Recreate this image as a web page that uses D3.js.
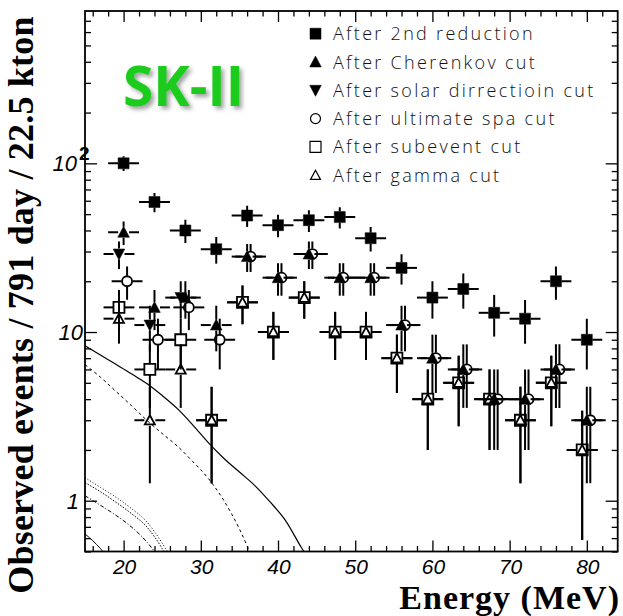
<!DOCTYPE html>
<html>
<head>
<meta charset="utf-8">
<script src="https://cdn.jsdelivr.net/npm/d3@7"></script>
<style>
  html, body { margin: 0; padding: 0; background: #fff; }
  svg { display: block; }
</style>
</head>
<body>
<svg id="chart" width="623" height="616"></svg>
<script>
// Energy bin centres (MeV); every bin is 4 MeV wide
const energyBins = [20, 24, 28, 32, 36, 40, 44, 48, 52, 56, 60, 64, 68, 72, 76, 80];
const binHalfWidth = 2;

// Observed events per bin after each reduction step (SK-II, 791 days)
const afterSecondReduction = [100, 59, 40, 31, 49, 43, 46, 48, 36, 24, 16, 18, 13, 12, 20, 9];
const afterCherenkov       = [39, 14, 16, 11, 28, 21, 29, 21, 21, 11, 7, 6, 4, 4, 6, 3];
const afterSolarDirection  = [29, 11, 16, null, null, null, null, null, null, null, null, null, null, null, null, null];
const afterUltimateSpa     = [20, 9, 14, 9, 28, 21, 29, 21, 21, 11, 7, 6, 4, 4, 6, 3];
const afterSubevent        = [14, 6, 9, 3, 15, 10, 16, 10, 10, 7, 4, 5, 4, 3, 5, 2];
const afterGamma           = [12, 3, 6, 3, 15, 10, 16, 10, 10, 7, 4, 5, 4, 3, 5, 2];

// Expected relic-neutrino spectra (events per bin) for several models
const modelSolidE   = [15, 17, 19, 21, 23, 25, 27, 29, 31, 33, 35, 37, 39, 41, 43, 44];
const modelSolidV   = [8.3, 7.3, 6.45, 5.65, 4.95, 4.2, 3.5, 2.8, 2.2, 1.78, 1.48, 1.23, 0.98, 0.76, 0.53, 0.45];
const modelDashedE  = [15, 17, 19, 21, 23, 25, 27, 29, 31, 33, 35, 37];
const modelDashedV  = [6.4, 5.4, 4.45, 3.67, 3.0, 2.5, 2.1, 1.7, 1.35, 1.0, 0.68, 0.42];
const modelDotAE    = [15, 17, 19, 21, 23, 25, 26];
const modelDotAV    = [1.37, 1.2, 1.05, 0.9, 0.75, 0.56, 0.47];
const modelDotBE    = [15, 17, 19, 21, 23, 25, 26];
const modelDotBV    = [1.28, 1.13, 0.98, 0.84, 0.7, 0.52, 0.43];
const modelDashDotE = [15, 17, 19, 21, 23, 24, 25];
const modelDashDotV = [1.07, 0.94, 0.82, 0.7, 0.57, 0.5, 0.43];
const modelLowE     = [15, 16, 17, 18];
const modelLowV     = [0.635, 0.58, 0.52, 0.46];

// Axis ticks and labels
const xMajorTicks = [20, 30, 40, 50, 60, 70, 80];
const xMinorTicks = [16, 18, 22, 24, 26, 28, 32, 34, 36, 38, 42, 44, 46, 48, 52, 54, 56, 58, 62, 64, 66, 68, 72, 74, 76, 78, 82];
const yMajorTicks = [1, 10, 100];
const yMinorTicks = [0.5, 0.6, 0.7, 0.8, 0.9, 2, 3, 4, 5, 6, 7, 8, 9, 20, 30, 40, 50, 60, 70, 80, 90, 200, 300, 400, 500, 600, 700];
const legendLabels = [
  "After 2nd reduction",
  "After Cherenkov cut",
  "After solar dirrectioin cut",
  "After ultimate spa cut",
  "After subevent cut",
  "After gamma cut"
];

const svg = d3.select("#chart");
const plot = { left: 85, right: 617.7, top: 11, bottom: 551.5 };

const x = d3.scaleLinear().domain([15, 84]).range([plot.left, plot.right]);
const y = d3.scaleLog().domain([0.5, 800]).range([plot.bottom, plot.top]);

const defs = svg.append("defs");
defs.append("clipPath").attr("id", "plotClip")
  .append("rect")
  .attr("x", plot.left).attr("y", plot.top)
  .attr("width", plot.right - plot.left).attr("height", plot.bottom - plot.top);
const shadow = defs.append("filter").attr("id", "softShadow")
  .attr("x", "-20%").attr("y", "-20%").attr("width", "140%").attr("height", "140%");
shadow.append("feDropShadow")
  .attr("dx", 3).attr("dy", 3).attr("stdDeviation", 2)
  .attr("flood-color", "#555").attr("flood-opacity", 0.55);

// ---- model curves ----
const curves = [
  { e: modelSolidE,   v: modelSolidV,   dash: null,        width: 1.2 },
  { e: modelDashedE,  v: modelDashedV,  dash: "3,3",       width: 1.0 },
  { e: modelDotAE,    v: modelDotAV,    dash: "1,2",       width: 1.0 },
  { e: modelDotBE,    v: modelDotBV,    dash: "1.5,1.5",   width: 1.0 },
  { e: modelDashDotE, v: modelDashDotV, dash: "4,2,1,2",   width: 1.0 },
  { e: modelLowE,     v: modelLowV,     dash: null,        width: 1.0 }
];
const curveLine = d3.line().curve(d3.curveMonotoneX);
const curveLayer = svg.append("g").attr("clip-path", "url(#plotClip)");
curves.forEach(c => {
  const pts = c.e.map((e, i) => [x(e), y(c.v[i])]);
  curveLayer.append("path")
    .attr("d", curveLine(pts))
    .attr("fill", "none")
    .attr("stroke", "#000")
    .attr("stroke-width", c.width)
    .attr("stroke-dasharray", c.dash);
});

// ---- marker shapes ----
function markerPath(type) {
  switch (type) {
    case "square":
    case "openSquare":
      return "M-5.5,-5.5H5.5V5.5H-5.5Z";
    case "triUp":
      return "M0,-6L5.8,5L-5.8,5Z";
    case "openTriUp":
      return "M0,-5L5,4.2L-5,4.2Z";
    case "triDown":
      return "M0,6L5.8,-5L-5.8,-5Z";
    case "circle":
      return d3.arc()({ innerRadius: 0, outerRadius: 5, startAngle: 0, endAngle: 2 * Math.PI });
  }
}
function styleMarker(sel, type) {
  const open = type === "openSquare" || type === "openTriUp" || type === "circle";
  sel.attr("d", markerPath(type))
    .attr("fill", open ? "none" : "#000")
    .attr("stroke", "#000")
    .attr("stroke-width", open ? 1.8 : 0.5)
    .attr("stroke-linejoin", "miter");
}

const series = [
  { values: afterSecondReduction, marker: "square",     shift: 0,     gap: 5.5 },
  { values: afterCherenkov,       marker: "triUp",      shift: 0,     gap: 5.5 },
  { values: afterSolarDirection,  marker: "triDown",    shift: -0.6,  gap: 5.5 },
  { values: afterUltimateSpa,     marker: "circle",     shift: 0.45,  gap: 5.5 },
  { values: afterSubevent,        marker: "openSquare", shift: -0.6,  gap: 5.5 },
  { values: afterGamma,           marker: "openTriUp",  shift: -0.6,  gap: 5.5 }
];

// ---- data points with statistical error bars ----
const dataLayer = svg.append("g").attr("clip-path", "url(#plotClip)");
series.forEach(s => {
  const g = dataLayer.append("g");
  energyBins.forEach((e, i) => {
    const n = s.values[i];
    if (n == null) return;
    const err = Math.sqrt(n);
    const cx = x(e + s.shift), cy = y(n);
    const xl = x(e + s.shift - binHalfWidth), xr = x(e + s.shift + binHalfWidth);
    const yt = y(n + err), yb = y(Math.max(n - err, 0.3));
    const segs = [];
    if (cx - s.gap > xl) segs.push([xl, cy, cx - s.gap, cy]);
    if (xr > cx + s.gap) segs.push([cx + s.gap, cy, xr, cy]);
    if (cy - s.gap > yt) segs.push([cx, yt, cx, cy - s.gap]);
    if (yb > cy + s.gap) segs.push([cx, cy + s.gap, cx, yb]);
    g.selectAll(null).data(segs).enter().append("line")
      .attr("x1", d => d[0]).attr("y1", d => d[1])
      .attr("x2", d => d[2]).attr("y2", d => d[3])
      .attr("stroke", "#000").attr("stroke-width", 2);
    g.append("path")
      .attr("transform", `translate(${cx},${cy})`)
      .call(styleMarker, s.marker);
  });
});

// ---- frame and ticks (ticks on all four sides, pointing inward) ----
const axes = svg.append("g").attr("stroke", "#000");
function tickAxis(axisFn, scale, values, size, tx, ty) {
  const a = axisFn(scale).tickValues(values).tickSize(size).tickFormat("");
  const g = axes.append("g").attr("transform", `translate(${tx},${ty})`).call(a);
  g.select(".domain").remove();
  g.selectAll("line").attr("stroke-width", 1.3);
}
tickAxis(d3.axisBottom, x, xMajorTicks, -11, 0, plot.bottom);
tickAxis(d3.axisBottom, x, xMinorTicks, -5.5, 0, plot.bottom);
tickAxis(d3.axisTop, x, xMajorTicks, -11, 0, plot.top);
tickAxis(d3.axisTop, x, xMinorTicks, -5.5, 0, plot.top);
tickAxis(d3.axisLeft, y, yMajorTicks, -12, plot.left, 0);
tickAxis(d3.axisLeft, y, yMinorTicks, -6, plot.left, 0);
tickAxis(d3.axisRight, y, yMajorTicks, -12, plot.right, 0);
tickAxis(d3.axisRight, y, yMinorTicks, -6, plot.right, 0);

svg.append("rect")
  .attr("x", plot.left).attr("y", plot.top)
  .attr("width", plot.right - plot.left).attr("height", plot.bottom - plot.top)
  .attr("fill", "none").attr("stroke", "#000").attr("stroke-width", 1.8);

// ---- tick labels ----
const tickFont = "'Liberation Sans', Arial, sans-serif";
svg.append("g").selectAll("text").data(xMajorTicks).enter().append("text")
  .attr("x", d => x(d) + 1).attr("y", 574)
  .attr("text-anchor", "middle")
  .attr("font-family", tickFont).attr("font-style", "italic")
  .attr("font-size", 21).text(d => d);

const yLab = svg.append("g")
  .attr("font-family", tickFont).attr("font-style", "italic").attr("font-size", 22);
yLab.append("text").attr("x", 79).attr("y", y(1) + 8).attr("text-anchor", "end").text("1");
yLab.append("text").attr("x", 83).attr("y", y(10) + 8).attr("text-anchor", "end").text("10");
yLab.append("text").attr("x", 77).attr("y", y(100) + 8).attr("text-anchor", "end").text("10");
yLab.append("text").attr("x", 79).attr("y", y(100) - 3).attr("font-size", 19)
  .attr("font-weight", "bold").attr("font-style", "normal").text("2");

// ---- axis titles ----
svg.append("text")
  .attr("x", 620).attr("y", 608.5)
  .attr("text-anchor", "end")
  .attr("font-family", "'Liberation Serif', 'Times New Roman', serif")
  .attr("font-weight", "bold").attr("font-size", 34)
  .attr("letter-spacing", 1)
  .text("Energy (MeV)");

svg.append("text")
  .attr("transform", "translate(33,305) rotate(-90)")
  .attr("text-anchor", "middle")
  .attr("font-family", "'Liberation Serif', 'Times New Roman', serif")
  .attr("font-weight", "bold").attr("font-size", 36)
  .attr("letter-spacing", 0.2)
  .text("Observed events / 791 day / 22.5 kton");

// ---- detector phase tag ----
svg.append("text")
  .attr("x", 123).attr("y", 106)
  .attr("font-family", "'Open Sans', 'DejaVu Sans', sans-serif")
  .attr("font-weight", "bold").attr("font-size", 55)
  .attr("fill", "#1fcc1f")
  .attr("filter", "url(#softShadow)")
  .text("SK-II");

// ---- legend ----
const legend = svg.append("g");
const legendMarkers = ["square", "triUp", "triDown", "circle", "openSquare", "openTriUp"];
legendLabels.forEach((label, i) => {
  const ly = 33.7 + i * 28.3;
  legend.append("path")
    .attr("transform", `translate(315.5,${ly})`)
    .call(styleMarker, legendMarkers[i])
    .attr("stroke-width", legendMarkers[i].startsWith("open") || legendMarkers[i] === "circle" ? 1.2 : 0.5);
  legend.append("text")
    .attr("x", 333).attr("y", ly + 6.5)
    .attr("font-family", "'Open Sans', Lato, sans-serif")
    .attr("font-weight", 300).attr("font-size", 18)
    .attr("letter-spacing", 2.3)
    .attr("fill", "#111")
    .text(label);
});
</script>
</body>
</html>
